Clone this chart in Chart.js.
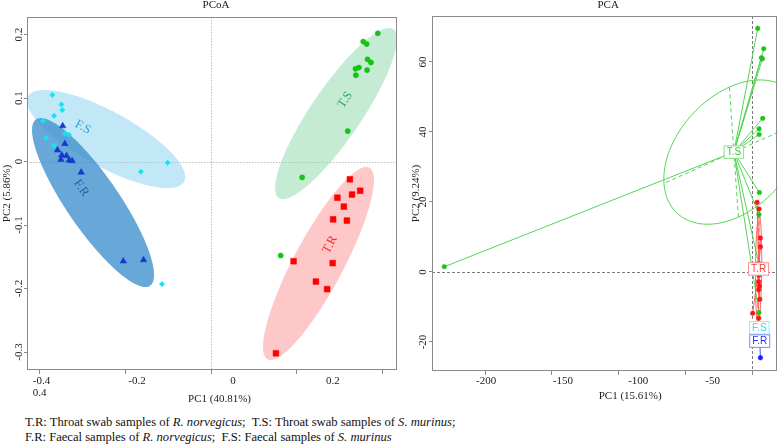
<!DOCTYPE html>
<html><head><meta charset="utf-8">
<script src="https://cdn.jsdelivr.net/npm/chart.js@4.4.1/dist/chart.umd.min.js"></script>
<style>
html,body{margin:0;padding:0;background:#fff;overflow:hidden;width:778px;height:447px;}
#wrap{position:relative;width:778px;height:447px;overflow:hidden;}
#c1{position:absolute;left:0;top:0;}
#c2{position:absolute;left:400px;top:0;}
#caption{position:absolute;left:25px;top:415px;font-family:"Liberation Serif","Times New Roman",serif;font-size:12.6px;line-height:15px;color:#111;white-space:nowrap;}
</style></head><body>
<div id="wrap">
<canvas id="c1" width="431" height="405"></canvas>
<canvas id="c2" width="407" height="406"></canvas>
<div id="caption">T.R: Throat swab samples of <i>R. norvegicus</i>;&nbsp; T.S: Throat swab samples of <i>S. murinus</i>;<br>F.R: Faecal samples of <i>R. norvegicus</i>;&nbsp; F.S: Faecal samples of <i>S. murinus</i></div>
</div>
<script>
// ================= PCoA data =================
const pcoaXTicks = [-0.4, -0.2, 0, 0.2, 0.4];
const pcoaXTickLabels = ['-0.4', '-0.2', '0', '0.2', '0.4'];
const pcoaYTicks = [0.2, 0.1, 0, -0.1, -0.2, -0.3];
const pcoaYTickLabels = ['0.2', '0.1', '0', '-0.1', '-0.2', '-0.3'];
const pcoaGroupLabels = ['F.S', 'F.R', 'T.S', 'T.R'];

const pcoaFSx = [-0.369, -0.348, -0.346, -0.365, -0.391, -0.340, -0.330, -0.384, -0.365, -0.163, -0.101, -0.114];
const pcoaFSy = [0.105, 0.090, 0.081, 0.072, 0.064, 0.044, 0.042, 0.037, 0.025, -0.016, -0.002, -0.193];
const pcoaFRx = [-0.345, -0.340, -0.357, -0.347, -0.336, -0.349, -0.330, -0.323, -0.302, -0.204, -0.157];
const pcoaFRy = [0.056, 0.028, 0.018, 0.010, 0.009, 0.003, 0.002, 0.001, -0.017, -0.157, -0.155];
const pcoaTSx = [0.388, 0.354, 0.362, 0.364, 0.372, 0.344, 0.336, 0.363, 0.337, 0.318, 0.212, 0.162];
const pcoaTSy = [0.202, 0.189, 0.185, 0.161, 0.156, 0.148, 0.146, 0.144, 0.136, 0.048, -0.025, -0.148];
const pcoaTRx = [0.323, 0.347, 0.328, 0.294, 0.309, 0.284, 0.316, 0.192, 0.283, 0.244, 0.270, 0.151];
const pcoaTRy = [-0.028, -0.046, -0.052, -0.057, -0.071, -0.091, -0.093, -0.157, -0.160, -0.189, -0.201, -0.302];

// ellipses (F.S, F.R, T.S, T.R): centre and two semi-axis vectors, in data units
const pcoaEllCx = [-0.244, -0.2744, 0.2907, 0.250];
const pcoaEllCy = [0.0354, -0.0646, 0.0756, -0.1606];
const pcoaEllUx = [0.1814, 0.1326, 0.1333, 0.1184];
const pcoaEllUy = [-0.0672, -0.1310, 0.1329, 0.1509];
const pcoaEllVx = [-0.0311, -0.0507, 0.0484, 0.0512];
const pcoaEllVy = [-0.0381, -0.0235, -0.0224, -0.0184];
const pcoaLabelX = [-0.298, -0.302, 0.312, 0.277];
const pcoaLabelY = [0.054, -0.042, 0.097, -0.131];

// ================= PCA data =================
const pcaXTicks = [-200, -150, -100, -50, 0];
const pcaXTickLabels = ['-200', '-150', '-100', '-50'];
const pcaYTicks = [-20, 0, 20, 40, 60];
const pcaYTickLabels = ['-20', '0', '20', '40', '60'];
const pcaGroupLabels = ['T.S', 'T.R', 'F.S', 'F.R'];

const pcaTSx = [4.0, 8.5, 6.7, 7.5, 7.7, 5.0, 5.0, 5.2, 4.9, 4.7, 4.9, -230.5];
const pcaTSy = [69.6, 63.8, 61.2, 60.9, 43.9, 40.9, 39.3, 22.7, 16.4, 2.5, -11.6, 1.5];
const pcaTRx = [3.5, 5.0, 6.0, 6.0, 5.2, 4.9, 4.7, 5.2, 4.7, 5.5, 0.2, 4.7];
const pcaTRy = [19.9, 18.0, 9.7, 7.2, 1.1, -0.9, -2.8, -4.0, -5.1, -7.8, -11.8, -13.2];
const pcaFSx = [4.2, 5.6, 4.8, 6.1, 5.3, 4.5, 5.9, 4.9, 5.4, 5.0, 4.6, 5.8];
const pcaFSy = [-15.6, -16.1, -15.9, -15.7, -16.3, -16.0, -15.5, -16.2, -15.8, -16.0, -15.9, -16.1];
const pcaFRx = [6.0, 5.2, 5.6, 5.9, 5.0, 5.4, 5.7, 5.3, 5.5, 5.8, 5.1];
const pcaFRy = [-24.5, -19.2, -19.6, -19.0, -19.4, -18.9, -19.3, -19.5, -19.1, -19.7, -19.0];

// ellipses for T.S and T.R: semi-axis vectors (data units), centred on the group centroid
const pcaEllUx = [-52.3, 0.4];
const pcaEllUy = [-8.94, 15.5];
const pcaEllVx = [-3.37, 2.3];
const pcaEllVy = [18.57, -0.06];

// ================= helpers =================
Chart.defaults.font.family = '"Liberation Serif", "Times New Roman", serif';
Chart.defaults.color = '#222';
const zip = (xs, ys) => xs.map((v, i) => ({x: v, y: ys[i]}));
const mean = a => a.reduce((s, v) => s + v, 0) / a.length;

function ellipsePath(ctx, xs, ys, cx, cy, ux, uy, vx, vy) {
  const px = xs.getPixelForValue(cx), py = ys.getPixelForValue(cy);
  const Ux = xs.getPixelForValue(cx + ux) - px, Uy = ys.getPixelForValue(cy + uy) - py;
  const Vx = xs.getPixelForValue(cx + vx) - px, Vy = ys.getPixelForValue(cy + vy) - py;
  ctx.beginPath();
  for (let k = 0; k <= 160; k++) {
    const t = k / 160 * Math.PI * 2;
    const X = px + Math.cos(t) * Ux + Math.sin(t) * Vx;
    const Y = py + Math.cos(t) * Uy + Math.sin(t) * Vy;
    if (k === 0) ctx.moveTo(X, Y); else ctx.lineTo(X, Y);
  }
  ctx.closePath();
  return {px, py, Ux, Uy, Vx, Vy};
}
function drawBox(ctx, a, color) {
  ctx.strokeStyle = color; ctx.lineWidth = 1; ctx.setLineDash([]);
  ctx.strokeRect(Math.round(a.left) + 0.5, Math.round(a.top) + 0.5,
                 Math.round(a.right - a.left) - 1, Math.round(a.bottom - a.top) - 1);
}
function drawXLabels(ctx, scale, ticks, labels, place, baseY) {
  ctx.font = '11px "Liberation Serif"'; ctx.fillStyle = '#222';
  ctx.textAlign = 'center'; ctx.textBaseline = 'middle';
  labels.forEach((lab, i) => {
    const p = place[i];
    ctx.fillText(lab, scale.getPixelForValue(ticks[p[0]]) + p[1], baseY + p[2] * 12);
  });
}

// ================= PCoA chart =================
const pcoaFill = ['rgba(133,209,241,0.5)', 'rgba(66,146,206,0.8)', 'rgba(141,215,171,0.5)', 'rgba(255,118,118,0.4)'];
const pcoaLabelColor = ['#2aa6e0', '#1c5fb0', '#2ea85c', '#ff2828'];
const pcoaLabelRot = [28.7, 55.6, -56, -62];
const pcoaLabelPlace = [[0, 2.5, 0], [1, 12, 0], [2, 22, 0], [3, 36, 0], [0, 0.5, 1]];

const pcoaPlugin = {
  id: 'pcoaDecor',
  beforeDatasetsDraw(chart) {
    const {ctx, chartArea: a, scales: {x, y}} = chart;
    ctx.save();
    ctx.beginPath(); ctx.rect(a.left, a.top, a.right - a.left, a.bottom - a.top); ctx.clip();
    const zx = Math.round(x.getPixelForValue(0)) + 0.5, zy = Math.round(y.getPixelForValue(0)) + 0.5;
    ctx.strokeStyle = '#bdbdbd'; ctx.lineWidth = 1; ctx.setLineDash([1.5, 1.5]);
    ctx.beginPath(); ctx.moveTo(zx, a.top); ctx.lineTo(zx, a.bottom);
    ctx.moveTo(a.left, zy); ctx.lineTo(a.right, zy); ctx.stroke();
    ctx.setLineDash([]);
    for (let i = 0; i < 4; i++) {
      ellipsePath(ctx, x, y, pcoaEllCx[i], pcoaEllCy[i], pcoaEllUx[i], pcoaEllUy[i], pcoaEllVx[i], pcoaEllVy[i]);
      ctx.fillStyle = pcoaFill[i]; ctx.fill();
    }
    ctx.font = '12.5px "Liberation Serif"'; ctx.textAlign = 'center'; ctx.textBaseline = 'middle';
    for (let i = 0; i < 4; i++) {
      ctx.save();
      ctx.translate(x.getPixelForValue(pcoaLabelX[i]), y.getPixelForValue(pcoaLabelY[i]));
      ctx.rotate(pcoaLabelRot[i] * Math.PI / 180);
      ctx.fillStyle = pcoaLabelColor[i];
      ctx.fillText(pcoaGroupLabels[i], 0, 0);
      ctx.restore();
    }
    ctx.restore();
  },
  afterDraw(chart) {
    const {ctx, chartArea: a, scales: {x}} = chart;
    ctx.save();
    drawBox(ctx, a, '#8a8a8a');
    drawXLabels(ctx, x, pcoaXTicks, pcoaXTickLabels, pcoaLabelPlace, a.bottom + 11);
    ctx.font = '11px "Liberation Serif"'; ctx.fillStyle = '#222'; ctx.textAlign = 'center';
    ctx.fillText('PC1 (40.81%)', (a.left + a.right) / 2 + 7.5, a.bottom + 29);
    ctx.restore();
  }
};

new Chart(document.getElementById('c1'), {
  type: 'scatter',
  data: {
    datasets: [
      {label: 'F.S', data: zip(pcoaFSx, pcoaFSy), pointStyle: 'rectRot', pointRadius: 2.7,
       backgroundColor: '#16e3f2', borderColor: '#16e3f2', borderWidth: 0.5},
      {label: 'F.R', data: zip(pcoaFRx, pcoaFRy), pointStyle: 'triangle', pointRadius: 3.8,
       backgroundColor: '#1538d0', borderColor: '#1538d0', borderWidth: 0.5},
      {label: 'T.S', data: zip(pcoaTSx, pcoaTSy), pointStyle: 'circle', pointRadius: 2.6,
       backgroundColor: '#12c512', borderColor: '#12c512', borderWidth: 0.5},
      {label: 'T.R', data: zip(pcoaTRx, pcoaTRy), pointStyle: 'rect', pointRadius: 4.1,
       backgroundColor: '#ff0000', borderColor: '#ff0000', borderWidth: 0.5}
    ]
  },
  options: {
    responsive: false, animation: false, events: [],
    layout: {padding: {left: 1, right: 0, top: 0, bottom: 0}},
    plugins: {
      legend: {display: false}, tooltip: {enabled: false},
      title: {display: true, text: 'PCoA', font: {size: 11, weight: 'normal'}, color: '#222', padding: {top: -1.5, bottom: 5.3}}
    },
    scales: {
      x: {
        type: 'linear', position: 'bottom', min: -0.428, max: 0.4326,
        afterBuildTicks: s => { s.ticks = pcoaXTicks.map(v => ({value: v})); },
        ticks: {display: false},
        grid: {display: true, drawOnChartArea: false, drawTicks: true, tickLength: 4, color: '#8a8a8a'},
        border: {display: false},
        afterFit: s => { s.height = 35; }
      },
      y: {
        type: 'linear', position: 'left', min: -0.3283, max: 0.2276,
        afterBuildTicks: s => { s.ticks = pcoaYTicks.map(v => ({value: v})); },
        ticks: {callback: (v, i) => pcoaYTickLabels[i], minRotation: 90, maxRotation: 90, crossAlign: 'center',
                padding: -4.2, font: {size: 11}, color: '#222'},
        grid: {display: true, drawOnChartArea: false, drawTicks: true, tickLength: 3, color: '#8a8a8a'},
        border: {display: false},
        title: {display: true, text: 'PC2 (5.86%)', font: {size: 11}, color: '#222', padding: 0},
        afterFit: s => { s.width = 26; }
      },
      y2: {
        type: 'linear', position: 'right', display: true,
        ticks: {display: false}, grid: {display: false}, border: {display: false},
        afterFit: s => { s.width = 34; }
      }
    }
  },
  plugins: [pcoaPlugin]
});

// ================= PCA chart =================
const pcaStyle = {
  'T.S': {xs: pcaTSx, ys: pcaTSy, line: '#55d455', point: '#1ec21e', text: '#35c935', border: '#86e386'},
  'T.R': {xs: pcaTRx, ys: pcaTRy, line: '#ff5c5c', point: '#ff1414', text: '#ff3a3a', border: '#ff8f8f'},
  'F.S': {xs: pcaFSx, ys: pcaFSy, line: '#33e6f5', point: '#14e0f0', text: '#2fd9ee', border: '#7ff2fa'},
  'F.R': {xs: pcaFRx, ys: pcaFRy, line: '#3a4cff', point: '#1a1aff', text: '#3030f0', border: '#7f86ff'}
};
const pcaEllGroups = ['T.S', 'T.R'];
const pcaPlace = [[0, 1, 0], [1, 11, 0], [2, 19.5, 0], [3, 27, 0]];

const pcaPlugin = {
  id: 'pcaDecor',
  beforeDatasetsDraw(chart) {
    const {ctx, chartArea: a, scales: {x, y}} = chart;
    ctx.save();
    ctx.beginPath(); ctx.rect(a.left, a.top, a.right - a.left, a.bottom - a.top); ctx.clip();
    const zx = Math.round(x.getPixelForValue(0)) + 0.5, zy = Math.round(y.getPixelForValue(0)) + 0.5;
    ctx.strokeStyle = '#7a7a7a'; ctx.lineWidth = 1; ctx.setLineDash([3, 2]);
    ctx.beginPath(); ctx.moveTo(zx, a.top); ctx.lineTo(zx, a.bottom);
    ctx.moveTo(a.left, zy); ctx.lineTo(a.right, zy); ctx.stroke();
    ctx.setLineDash([]);
    // ellipses with dashed axes
    pcaEllGroups.forEach((g, i) => {
      const st = pcaStyle[g];
      const cx = mean(st.xs), cy = mean(st.ys);
      const e = ellipsePath(ctx, x, y, cx, cy, pcaEllUx[i], pcaEllUy[i], pcaEllVx[i], pcaEllVy[i]);
      ctx.strokeStyle = st.line; ctx.lineWidth = 1; ctx.stroke();
      ctx.setLineDash([4, 3]);
      ctx.beginPath();
      ctx.moveTo(e.px - e.Ux, e.py - e.Uy); ctx.lineTo(e.px + e.Ux, e.py + e.Uy);
      ctx.moveTo(e.px - e.Vx, e.py - e.Vy); ctx.lineTo(e.px + e.Vx, e.py + e.Vy);
      ctx.stroke();
      ctx.setLineDash([]);
    });
    // star lines from centroids
    pcaGroupLabels.forEach(g => {
      const st = pcaStyle[g];
      const cpx = x.getPixelForValue(mean(st.xs)), cpy = y.getPixelForValue(mean(st.ys));
      ctx.strokeStyle = st.line; ctx.lineWidth = 1;
      ctx.beginPath();
      st.xs.forEach((v, k) => {
        ctx.moveTo(cpx, cpy);
        ctx.lineTo(x.getPixelForValue(v), y.getPixelForValue(st.ys[k]));
      });
      ctx.stroke();
    });
    ctx.restore();
  },
  afterDatasetsDraw(chart) {
    const {ctx, scales: {x, y}} = chart;
    ctx.save();
    ctx.font = '10px "Liberation Sans", Arial, sans-serif';
    ctx.textAlign = 'center'; ctx.textBaseline = 'middle';
    pcaGroupLabels.forEach(g => {
      const st = pcaStyle[g];
      const cx = x.getPixelForValue(mean(st.xs)), cy = y.getPixelForValue(mean(st.ys));
      const w = ctx.measureText(g).width + 5, h = 12.5;
      ctx.fillStyle = '#fff'; ctx.fillRect(cx - w / 2, cy - h / 2, w, h);
      ctx.strokeStyle = st.border; ctx.lineWidth = 1; ctx.strokeRect(cx - w / 2, cy - h / 2, w, h);
      ctx.fillStyle = st.text; ctx.fillText(g, cx, cy + 0.5);
    });
    ctx.restore();
  },
  afterDraw(chart) {
    const {ctx, chartArea: a, scales: {x}} = chart;
    ctx.save();
    drawBox(ctx, a, '#8a8a8a');
    drawXLabels(ctx, x, pcaXTicks, pcaXTickLabels, pcaPlace, a.bottom + 10);
    ctx.font = '11px "Liberation Serif"'; ctx.fillStyle = '#222'; ctx.textAlign = 'center';
    ctx.fillText('PC1 (15.61%)', (a.left + a.right) / 2 + 25.5, a.bottom + 25);
    ctx.restore();
  }
};

new Chart(document.getElementById('c2'), {
  type: 'scatter',
  data: {
    datasets: pcaGroupLabels.map(g => ({
      label: g, data: zip(pcaStyle[g].xs, pcaStyle[g].ys), pointStyle: 'circle', pointRadius: 2.3,
      backgroundColor: pcaStyle[g].point, borderColor: pcaStyle[g].point, borderWidth: 0.5
    }))
  },
  options: {
    responsive: false, animation: false, events: [],
    layout: {padding: {left: 9.4, right: 0, top: 0, bottom: 0}},
    plugins: {
      legend: {display: false}, tooltip: {enabled: false},
      title: {display: true, text: 'PCA', font: {size: 11, weight: 'normal'}, color: '#222', padding: {top: -1.5, bottom: 4.3}}
    },
    scales: {
      x: {
        type: 'linear', position: 'bottom', min: -239.7, max: 18.7,
        afterBuildTicks: s => { s.ticks = pcaXTicks.map(v => ({value: v})); },
        ticks: {display: false},
        grid: {display: true, drawOnChartArea: false, drawTicks: true, tickLength: 4, color: '#8a8a8a'},
        border: {display: false},
        afterFit: s => { s.height = 35; }
      },
      y: {
        type: 'linear', position: 'left', min: -28.29, max: 73.14,
        afterBuildTicks: s => { s.ticks = pcaYTicks.map(v => ({value: v})); },
        ticks: {callback: (v, i) => pcaYTickLabels[i], minRotation: 90, maxRotation: 90, crossAlign: 'center',
                padding: -1.8, font: {size: 11}, color: '#222'},
        grid: {display: true, drawOnChartArea: false, drawTicks: true, tickLength: 3, color: '#8a8a8a'},
        border: {display: false},
        title: {display: true, text: 'PC2 (9.24%)', font: {size: 11}, color: '#222', padding: 0},
        afterFit: s => { s.width = 22.6; }
      },
      y2: {
        type: 'linear', position: 'right', display: true,
        ticks: {display: false}, grid: {display: false}, border: {display: false},
        afterFit: s => { s.width = 29.6; }
      }
    }
  },
  plugins: [pcaPlugin]
});
</script>
</body></html>
